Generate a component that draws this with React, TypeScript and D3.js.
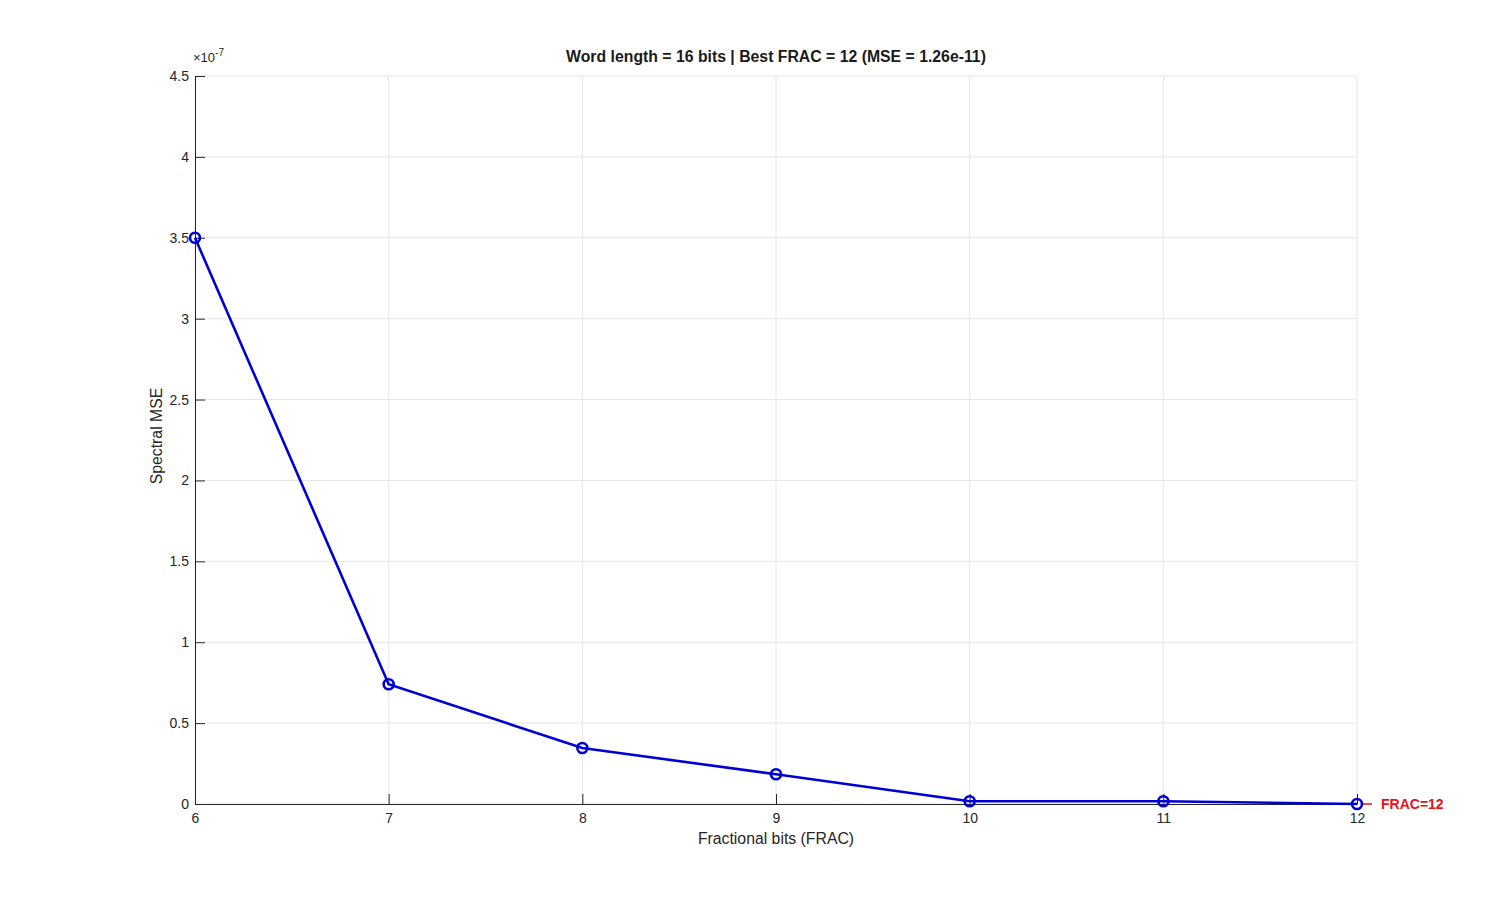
import React, { useRef, useEffect } from 'react';
import * as d3 from 'd3';

// values (MSE in units of 1e-7)
const fracBits = [6, 7, 8, 9, 10, 11, 12];
const mseValues = [3.5, 0.74, 0.346, 0.184, 0.017, 0.017, 0.000126];
const yTicks = [0, 0.5, 1, 1.5, 2, 2.5, 3, 3.5, 4, 4.5];
const bestFrac = 12;
const bestMse = 0.000126;

const App = () => {
  const svgRef = useRef(null);
  const width = 1500;
  const height = 904;
  const margin = { top: 76, right: 143, bottom: 100, left: 195 };

  useEffect(() => {
    const svg = d3.select(svgRef.current)
      .attr('width', width)
      .attr('height', height);

    svg.selectAll('*').remove();

    const font = 'Liberation Sans, Arial, Helvetica, sans-serif';

    const x = d3.scaleLinear()
      .domain([6, 12])
      .range([margin.left, width - margin.right]);

    const y = d3.scaleLinear()
      .domain([0, 4.5])
      .range([height - margin.bottom, margin.top]);

    const x0 = margin.left;
    const x1 = width - margin.right;
    const y0 = height - margin.bottom;
    const y1 = margin.top;

    // grid
    const grid = svg.append('g').attr('stroke', '#e6e6e6').attr('stroke-width', 1);
    grid.selectAll('.gx')
      .data(fracBits)
      .enter()
      .append('line')
      .attr('x1', d => x(d)).attr('x2', d => x(d))
      .attr('y1', y1).attr('y2', y0);
    grid.selectAll('.gy')
      .data(yTicks)
      .enter()
      .append('line')
      .attr('x1', x0).attr('x2', x1)
      .attr('y1', d => y(d)).attr('y2', d => y(d));

    // axes (MATLAB style, ticks pointing inward)
    const xAxis = svg.append('g')
      .attr('transform', `translate(0,${y0})`)
      .call(d3.axisBottom(x).tickValues(fracBits).tickSizeInner(-10).tickSizeOuter(0).tickPadding(9).tickFormat(d3.format('d')));
    const yAxis = svg.append('g')
      .attr('transform', `translate(${x0},0)`)
      .call(d3.axisLeft(y).tickValues(yTicks).tickSizeInner(-10).tickSizeOuter(0).tickPadding(6).tickFormat(d => `${d}`));

    [xAxis, yAxis].forEach(a => {
      a.select('.domain').attr('stroke', '#262626').attr('stroke-width', 1);
      a.selectAll('.tick line').attr('stroke', '#262626');
      a.selectAll('.tick text')
        .attr('fill', '#262626')
        .style('font-family', font)
        .style('font-size', '14px');
    });

    // exponent
    const ex = svg.append('text')
      .attr('x', x0 - 2)
      .attr('y', y1 - 14)
      .attr('fill', '#262626')
      .style('font-family', font)
      .style('font-size', '13px');
    ex.append('tspan').text('×10');
    ex.append('tspan').attr('dy', -6).style('font-size', '10px').text('-7');

    // labels
    svg.append('text')
      .attr('x', (x0 + x1) / 2)
      .attr('y', 62)
      .attr('text-anchor', 'middle')
      .attr('fill', '#1a1a1a')
      .style('font-family', font)
      .style('font-size', '15.8px')
      .style('font-weight', 'bold')
      .text('Word length = 16 bits | Best FRAC = 12 (MSE = 1.26e-11)');

    svg.append('text')
      .attr('x', (x0 + x1) / 2)
      .attr('y', 844)
      .attr('text-anchor', 'middle')
      .attr('fill', '#262626')
      .style('font-family', font)
      .style('font-size', '15.8px')
      .text('Fractional bits (FRAC)');

    svg.append('text')
      .attr('transform', `translate(162,${(y0 + y1) / 2 - 4}) rotate(-90)`)
      .attr('text-anchor', 'middle')
      .attr('fill', '#262626')
      .style('font-family', font)
      .style('font-size', '15.8px')
      .text('Spectral MSE');

    // series
    const pts = fracBits.map((f, i) => [f, mseValues[i]] as [number, number]);
    const line = d3.line<[number, number]>()
      .x(d => x(d[0]))
      .y(d => y(d[1]));

    svg.append('path')
      .datum(pts)
      .attr('d', line)
      .attr('fill', 'none')
      .attr('stroke', '#0000d6')
      .attr('stroke-width', 2.6);

    svg.selectAll('.pt')
      .data(pts)
      .enter()
      .append('circle')
      .attr('cx', d => x(d[0]))
      .attr('cy', d => y(d[1]))
      .attr('r', 5)
      .attr('fill', 'none')
      .attr('stroke', '#0000d6')
      .attr('stroke-width', 2.6);

    // best FRAC annotation
    const bx = x(bestFrac);
    const by = y(bestMse);
    svg.append('line')
      .attr('x1', bx + 6).attr('x2', bx + 15)
      .attr('y1', by).attr('y2', by)
      .attr('stroke', '#e8101a')
      .attr('stroke-width', 1.5);
    svg.append('text')
      .attr('x', bx + 24)
      .attr('y', by + 5)
      .attr('fill', '#e8101a')
      .style('font-family', font)
      .style('font-size', '14px')
      .style('font-weight', 'bold')
      .text('FRAC=12');
  }, []);

  return (
    <div style={{ position: 'absolute', left: 0, top: 0, background: '#fff' }}>
      <svg ref={svgRef}></svg>
    </div>
  );
};

export default App;
